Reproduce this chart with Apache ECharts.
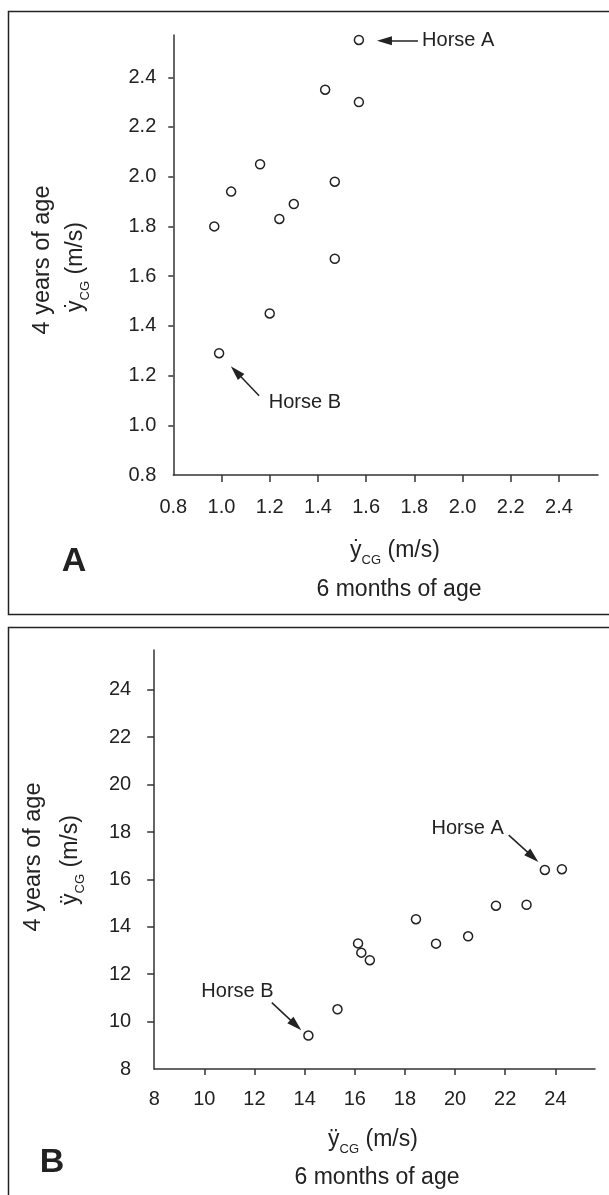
<!DOCTYPE html>
<html>
<head>
<meta charset="utf-8">
<script src="https://cdn.jsdelivr.net/npm/echarts@6/dist/echarts.min.js"></script>
<style>
html, body { margin: 0; padding: 0; background: #fff; }
#chart { width: 609px; height: 1195px; }
</style>
</head>
<body>
<div id="chart"></div>
<script>
// panel A: vertical velocity of CG, 6 months (x) vs 4 years (y)
const velSixMonths = [1.57, 1.43, 1.57, 1.16, 1.04, 1.47, 1.30, 1.24, 0.97, 1.47, 1.20, 0.99];
const velFourYears = [2.55, 2.35, 2.30, 2.05, 1.94, 1.98, 1.89, 1.83, 1.80, 1.67, 1.45, 1.29];
// panel B: vertical acceleration of CG
const accSixMonths = [23.58, 24.26, 21.63, 22.85, 18.44, 20.52, 19.24, 16.13, 16.26, 16.60, 15.31, 14.15];
const accFourYears = [16.40, 16.43, 14.89, 14.93, 14.32, 13.60, 13.29, 13.30, 12.91, 12.59, 10.52, 9.41];

const ticksA = [0.8, 1.0, 1.2, 1.4, 1.6, 1.8, 2.0, 2.2, 2.4];
const ticksB = [8, 10, 12, 14, 16, 18, 20, 22, 24];

// annotations (data units): arrow from -> to (arrowhead centre), label anchor
const arrowsA = [[[1.815, 2.547], [1.676, 2.547]], [[1.156, 1.119], [1.060, 1.216]]];
const arrowsB = [[[22.14, 17.87], [23.10, 16.95]], [[12.69, 10.80], [13.65, 9.85]]];
const labelsA = [{ name: 'Horse A', at: [1.826, 2.547], side: 'right' }, { name: 'Horse B', at: [1.19, 1.09], side: 'right' }];
const labelsB = [{ name: 'Horse A', at: [22.0, 18.13], side: 'left' }, { name: 'Horse B', at: [12.82, 11.25], side: 'left' }];

const FONT = '"Liberation Sans", Arial, Helvetica, sans-serif';
const INK = '#222';

function zip(xs, ys) { return xs.map((x, i) => [x, ys[i]]); }

function axis(gridIndex, min, max, ticks, fmt, tickLen, margin) {
  return {
    gridIndex: gridIndex,
    type: 'value',
    min: min,
    max: max,
    axisLine: { show: true, onZero: false, lineStyle: { color: '#333', width: 1.5 } },
    axisTick: { show: true, length: tickLen, customValues: ticks.slice(1), lineStyle: { color: '#333', width: 1.5 } },
    axisLabel: { customValues: ticks, margin: margin, fontSize: 20, color: INK, fontFamily: FONT, formatter: fmt },
    splitLine: { show: false }
  };
}

function scatter(idx, data, arrows, labels) {
  return {
    type: 'scatter',
    xAxisIndex: idx,
    yAxisIndex: idx,
    data: data,
    symbol: 'circle',
    symbolSize: 9,
    itemStyle: { color: '#fff', borderColor: INK, borderWidth: 1.5, opacity: 1 },
    silent: true,
    markLine: {
      silent: true,
      symbol: ['none', 'triangle'],
      symbolSize: [9, 15],
      label: { show: false },
      lineStyle: { color: INK, width: 1.5, type: 'solid' },
      data: arrows.map(a => [{ coord: a[0] }, { coord: a[1] }])
    },
    markPoint: {
      silent: true,
      symbol: 'circle',
      symbolSize: 1,
      itemStyle: { color: 'transparent' },
      data: labels.map(l => ({
        name: l.name,
        coord: l.at,
        label: { show: true, position: l.side, distance: 1, formatter: '{b}', fontSize: 20, color: INK, fontFamily: FONT }
      }))
    }
  };
}

// subscript "CG": base glyphs top-aligned, small glyphs pushed to the line bottom
const subRich = {
  b: { fontSize: 23, lineHeight: 23, verticalAlign: 'top', fontFamily: FONT, fill: INK, color: INK },
  s: { fontSize: 13, lineHeight: 27, verticalAlign: 'bottom', fontFamily: FONT, fill: INK, color: INK }
};

function txt(text, x, y, size, opts) {
  return Object.assign({
    type: 'text', x: x, y: y, silent: true,
    style: { text: text, fontSize: size, fontFamily: FONT, fill: INK, align: 'center', verticalAlign: 'middle' }
  }, opts || {});
}

function subTxt(text, x, y, rot) {
  return {
    type: 'text', x: x, y: y, rotation: rot || 0, silent: true,
    style: { text: text, fontSize: 23, fontFamily: FONT, fill: INK, align: 'center', verticalAlign: 'top', rich: subRich }
  };
}

const chart = echarts.init(document.getElementById('chart'), null, { renderer: 'canvas' });

const option = {
  animation: false,
  backgroundColor: '#fff',
  grid: [
    { left: 173.3, top: 35, width: 424.7, height: 440 },
    { left: 154.2, top: 650, width: 440.8, height: 419 }
  ],
  xAxis: [
    axis(0, 0.8, 2.562, ticksA, v => v.toFixed(1), 7, 22),
    axis(1, 8, 25.58, ticksB, v => String(v), 6, 20)
  ],
  yAxis: [
    axis(0, 0.8, 2.57, ticksA, v => v.toFixed(1), 5, 17),
    axis(1, 8, 25.68, ticksB, v => String(v), 7, 23)
  ],
  series: [
    scatter(0, zip(velSixMonths, velFourYears), arrowsA, labelsA),
    scatter(1, zip(accSixMonths, accFourYears), arrowsB, labelsB)
  ],
  graphic: [
    { type: 'rect', silent: true, z: -1, shape: { x: 8.5, y: 11.5, width: 620, height: 603 }, style: { fill: 'none', stroke: INK, lineWidth: 1.5 } },
    { type: 'rect', silent: true, z: -1, shape: { x: 8.5, y: 627.5, width: 620, height: 600 }, style: { fill: 'none', stroke: INK, lineWidth: 1.5 } },

    txt('A', 74, 562, 34, {}),
    txt('B', 52, 1163, 34, {}),

    txt('4 years of age', 43, 260, 23.5, { rotation: Math.PI / 2 }),
    subTxt('{b|ẏ}{s|CG}{b| (m/s)}', 64.5, 267, Math.PI / 2),
    subTxt('{b|ẏ}{s|CG}{b| (m/s)}', 395, 539.5, 0),
    txt('6 months of age', 399, 590, 23, {}),

    txt('4 years of age', 34, 857, 23.5, { rotation: Math.PI / 2 }),
    subTxt('{b|ÿ}{s|CG}{b| (m/s)}', 59.5, 860, Math.PI / 2),
    subTxt('{b|ÿ}{s|CG}{b| (m/s)}', 373, 1128.5, 0),
    txt('6 months of age', 377, 1178, 23, {})
  ]
};

// bold panel letters
option.graphic[2].style.fontWeight = 'bold';
option.graphic[3].style.fontWeight = 'bold';

chart.setOption(option);
</script>
</body>
</html>
